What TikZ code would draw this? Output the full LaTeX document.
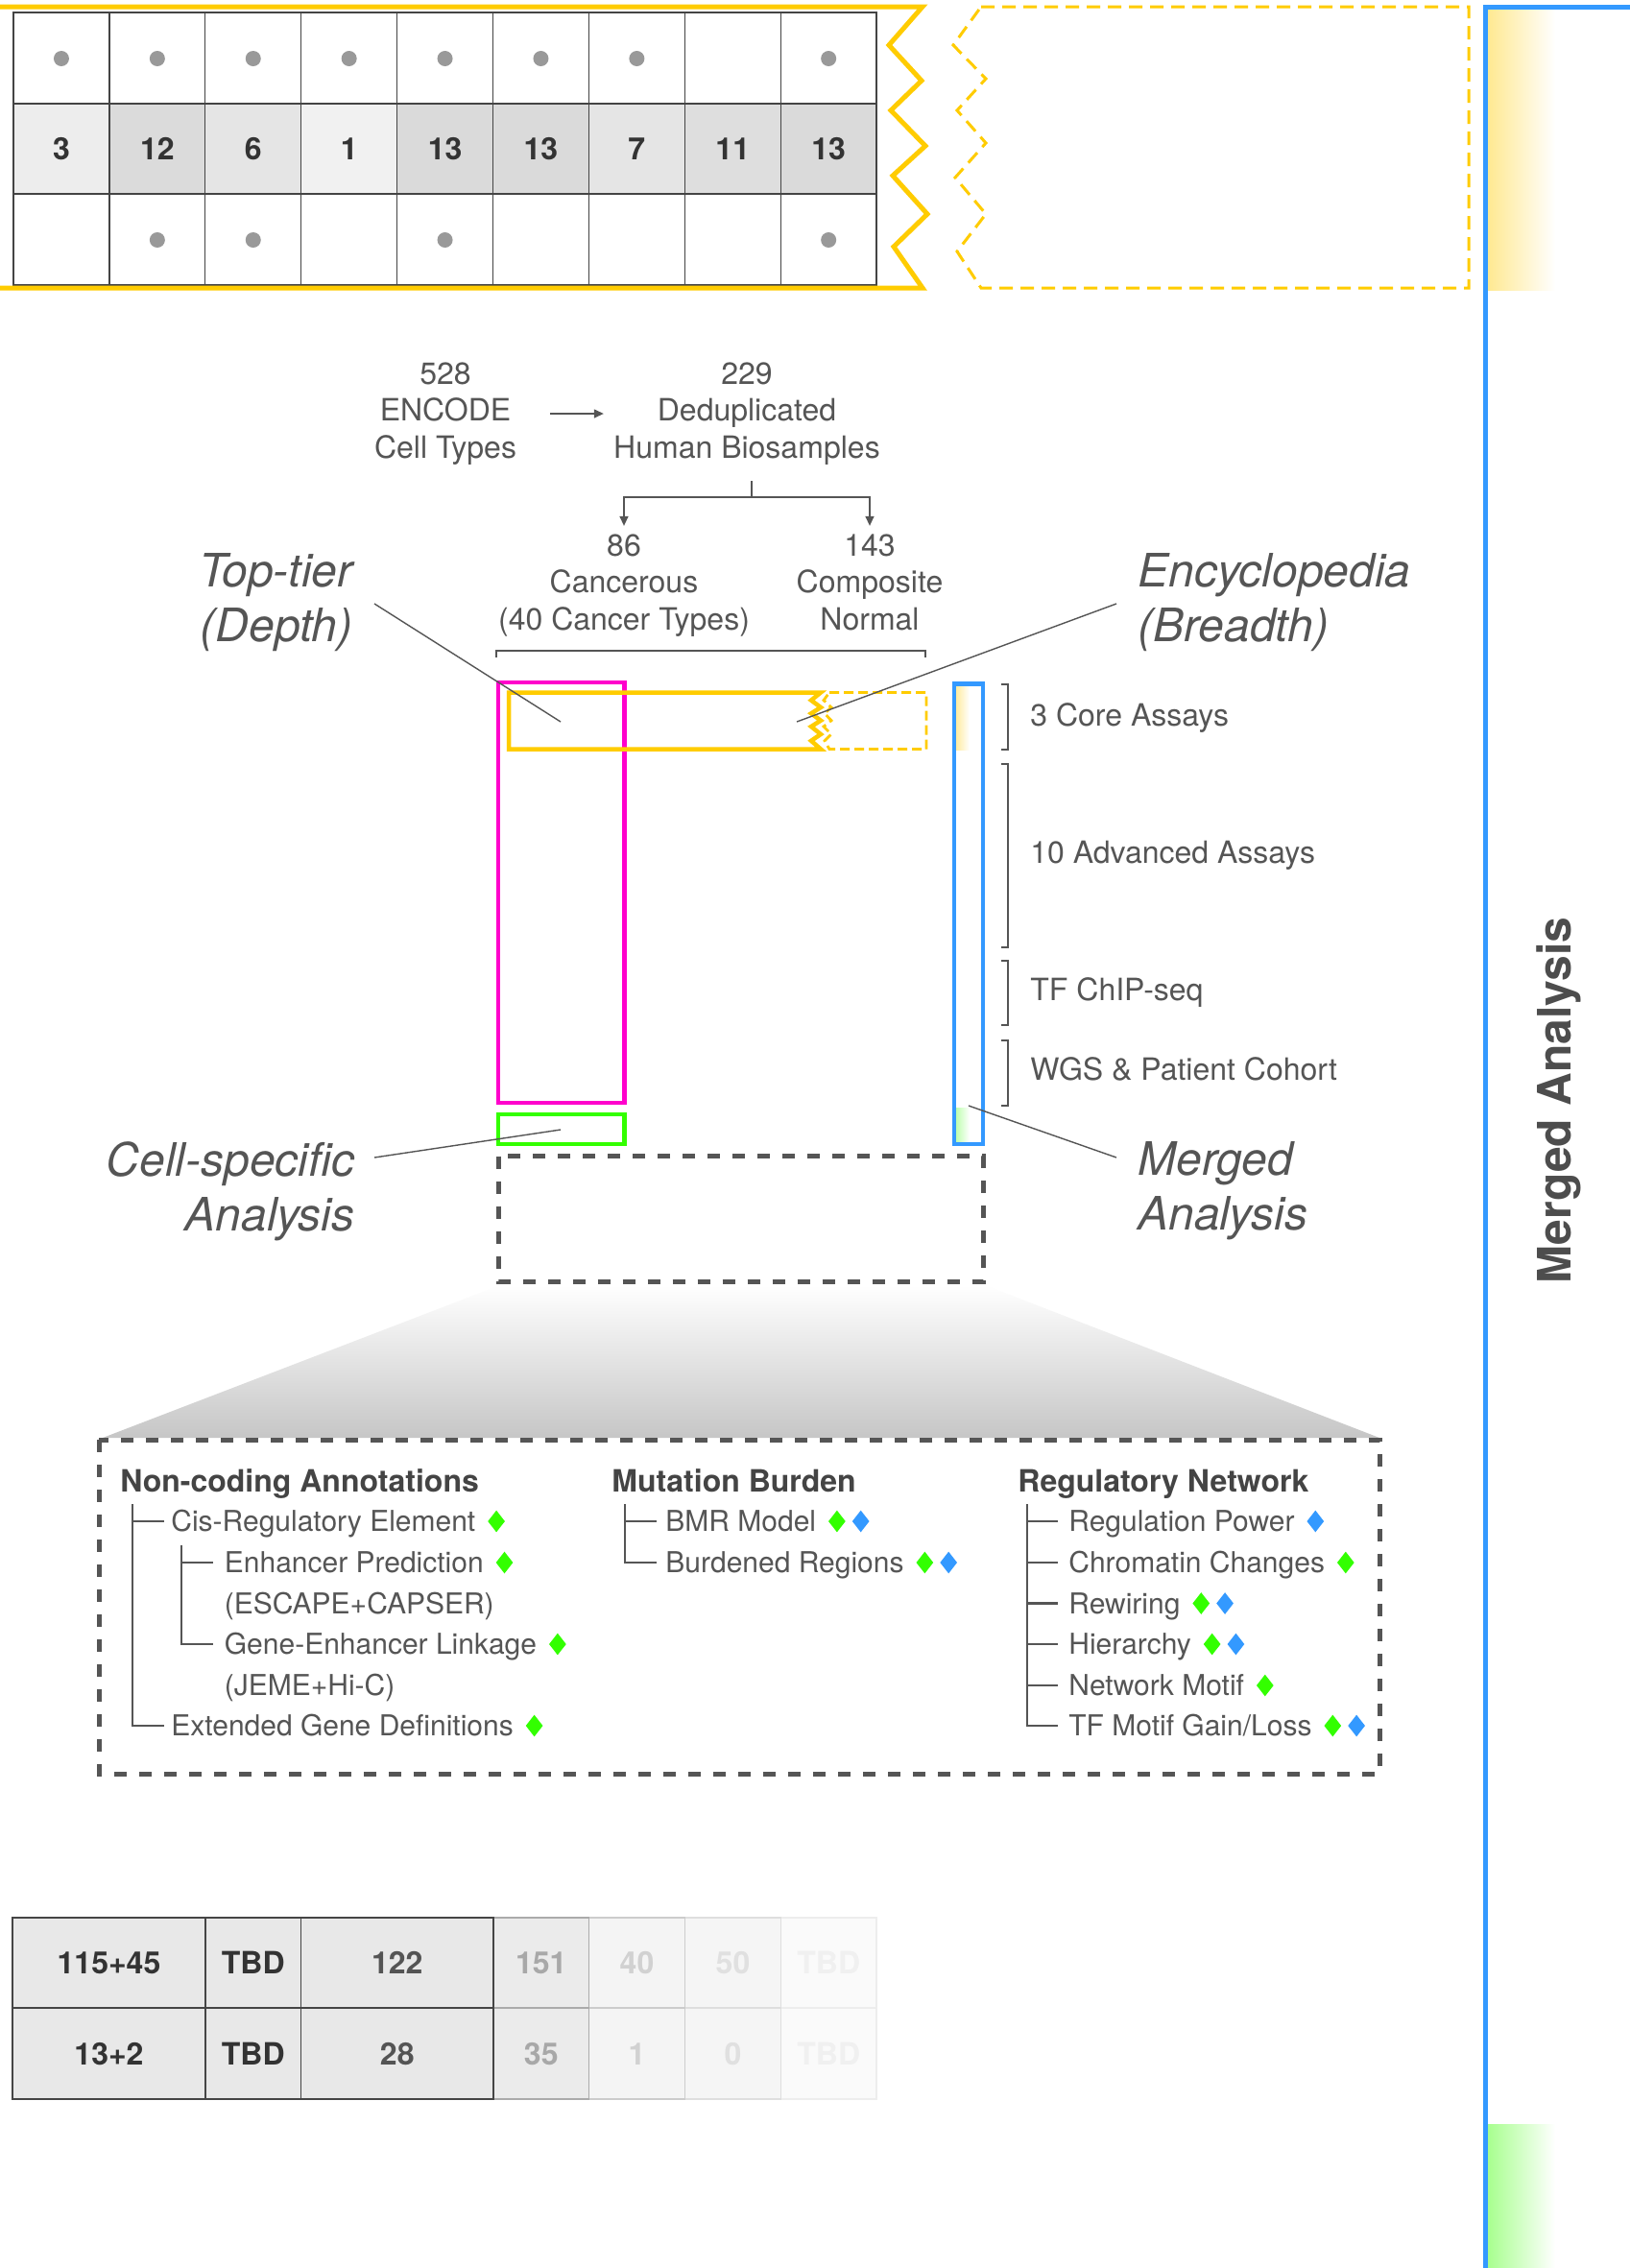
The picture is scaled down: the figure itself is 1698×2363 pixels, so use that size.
\documentclass[tikz,border=0pt]{standalone}
\usepackage{fontspec}
\setmainfont{TeX Gyre Heros}
\usetikzlibrary{arrows.meta,shapes.geometric}
\definecolor{ylw}{HTML}{FFCC00}
\definecolor{mag}{HTML}{FF00CC}
\definecolor{blu}{HTML}{3399FF}
\definecolor{grn}{HTML}{33FF00}
\definecolor{txt}{HTML}{555555}
\definecolor{hdrc}{HTML}{444444}
\definecolor{dark}{HTML}{333333}
\definecolor{dotc}{HTML}{999999}
\definecolor{ygrad}{RGB}{255,233,146}
\definecolor{ggrad}{RGB}{168,255,143}
\definecolor{yin}{RGB}{255,236,160}
\definecolor{gin}{RGB}{190,255,175}
\definecolor{trapc}{RGB}{198,198,198}
\definecolor{mergc}{HTML}{4D4D4D}
\begin{document}
\begin{tikzpicture}[x=0.5pt,y=-0.5pt,
  lbl/.style={font=\fontsize{16pt}{19.25pt}\selectfont, text=txt, align=center, inner sep=0pt},
  ital/.style={font=\fontsize{24pt}{28.5pt}\selectfont\itshape, text=txt, inner sep=0pt},
  asy/.style={font=\fontsize{16pt}{19pt}\selectfont, text=txt, inner sep=0pt, anchor=west, text height=11.5pt, text depth=0pt},
  item/.style={font=\fontsize{15pt}{18pt}\selectfont, text=txt, inner sep=0pt, anchor=west, text height=10.8pt, text depth=0pt},
  hdr/.style={font=\fontsize{16pt}{19pt}\selectfont\bfseries, text=hdrc, inner sep=0pt, anchor=west, text height=11.5pt, text depth=0pt},
  num/.style={font=\fontsize{16pt}{19pt}\selectfont\bfseries, inner sep=0pt, text height=11.5pt, text depth=0pt},
  dotn/.style={circle, fill=dotc, inner sep=0pt, minimum size=8pt},
  gridln/.style={draw=hdrc, line width=0.6pt},
  thinln/.style={draw=txt, line width=0.7pt},
  brk/.style={draw=txt, line width=0.75pt},
  arr/.style={thinln, -{Triangle[length=5pt,width=4.5pt]}},
  treeln/.style={draw=txt, line width=1.2pt},
  dashbox/.style={draw=txt, line width=2.5pt, dash pattern=on 6.5pt off 6.5pt},
  gdia/.style={diamond, fill=grn, inner sep=0pt, minimum width=9pt, minimum height=11.5pt, anchor=west},
  bdia/.style={diamond, fill=blu, inner sep=0pt, minimum width=9pt, minimum height=11.5pt, anchor=west}
]
\useasboundingbox (0,0) rectangle (1698,2363);
\fill[white] (0,0) rectangle (1698,2363);

% ---------- top magnified table ----------
\foreach \i/\n/\g in {0/3/7,1/12/14,2/6/10,3/1/5.5,4/13/14.5,5/13/14.5,6/7/10,7/11/13,8/13/14.5}{
  \fill[black!\g] ({14+99.9*\i},108) rectangle ({113.9+99.9*\i},202);
  \node[num, text=dark] (tn\i) at ({63.95+99.9*\i},155) {\n};
}
\draw[gridln] (14,13) rectangle (913,297);
\draw[gridln] (14,108) -- (913,108) (14,202) -- (913,202);
\foreach \i in {1,...,8} \draw[gridln] ({14+99.9*\i},13) -- ({14+99.9*\i},297);
\foreach \i in {0,1,2,3,4,5,6,8} \node[dotn] (dt\i) at ({63.95+99.9*\i},61) {};
\foreach \i in {1,2,4,8} \node[dotn] (db\i) at ({63.95+99.9*\i},250) {};

\draw[ylw, line width=2.5pt, line join=miter] (0,7) -- (961,7) -- (926,47) -- (960,84) -- (928,115) -- (964,152) -- (930,183) -- (966,223) -- (931,257) -- (961,300) -- (0,300);
\draw[ylw, line width=1.5pt, dash pattern=on 7pt off 4pt] (1022,7) -- (1530,7) -- (1530,300) -- (1022,300) -- (997,262) -- (1027,223) -- (995,185) -- (1027,149) -- (997,115) -- (1027,82) -- (993,47) -- cycle;

% ---------- right side gradients and blue frame ----------
\shade[left color=ygrad, right color=white] (1550,10) rectangle (1620,302);
\shade[left color=ggrad, right color=white] (1550,2213) rectangle (1620,2363);
\draw[blu, line width=2.5pt, line join=miter] (1547.5,2363) -- (1547.5,7.5) -- (1698,7.5);
\node[font=\fontsize{24pt}{24pt}\selectfont\bfseries, text=mergc, rotate=90, inner sep=0pt, text height=17.3pt, text depth=0pt] (mergedv) at (1619,1146.5) {Merged Analysis};

% ---------- biosample labels ----------
\node[lbl] (enc) at (464,431) {\strut 528\\ENCODE\\Cell Types\strut};
\node[lbl] (dedup) at (778,431) {\strut 229\\Deduplicated\\Human Biosamples\strut};
\node[lbl] (canc) at (650,610) {\strut 86\\Cancerous\\(40 Cancer Types)\strut};
\node[lbl] (comp) at (906,610) {\strut 143\\Composite\\Normal\strut};
\draw[arr, shorten <=17.5pt, shorten >=5pt] (enc) -- (dedup);
\coordinate (split) at (783,518);
\draw[thinln, shorten <=6pt] (dedup.south -| split) -- (split);
\draw[arr] (split) -| ([yshift=2pt]canc.north);
\draw[arr] (split) -| ([yshift=2pt]comp.north);
\draw[brk] (517,685) -- (517,678) -- (964,678) -- (964,685);

% ---------- italic labels ----------
\node[ital, align=right, anchor=east] (toptier) at (368,628) {Top-tier\\(Depth)};
\node[ital, align=left, anchor=west] (encyc) at (1185,628) {Encyclopedia\\(Breadth)};
\node[ital, align=right, anchor=east] (cellsp) at (370,1241) {Cell-specific\\Analysis};
\node[ital, align=left, anchor=west] (merged) at (1185,1241) {Merged\\Analysis};

% ---------- boxes ----------
\draw[mag, line width=2.25pt] (519,711) rectangle (650.5,1149);
\draw[ylw, line width=2.25pt, line join=miter] (855,721.5) -- (530,721.5) -- (530,780.5) -- (855,780.5) -- (845,771.8) -- (855,765) -- (845,757) -- (855,750.7) -- (845,743.3) -- (855,737) -- (845,729.6) -- cycle;
\draw[ylw, line width=1.4pt, dash pattern=on 5pt off 2.5pt] (864,721.5) -- (965,721.5) -- (965,780.5) -- (864,780.5) -- (859,771.8) -- (866,765) -- (858,757) -- (866,750.7) -- (859,743.3) -- (866,737) -- (858,729.6) -- cycle;
\draw[grn, line width=2.25pt] (519,1161) rectangle (650.5,1192);
\shade[left color=yin, right color=white] (996,715) rectangle (1010,781);
\shade[left color=gin, right color=white] (996,1154) rectangle (1010,1190);
\draw[blu, line width=2.25pt] (994,712.5) rectangle (1024,1192);

% assay brackets
\draw[brk] (1043,713) -- (1050,713) -- (1050,781) -- (1043,781);
\draw[brk] (1043,796) -- (1050,796) -- (1050,987) -- (1043,987);
\draw[brk] (1043,1001) -- (1050,1001) -- (1050,1068) -- (1043,1068);
\draw[brk] (1043,1084) -- (1050,1084) -- (1050,1152) -- (1043,1152);
\node[asy] (core) at (1073,745) {3 Core Assays};
\node[asy] (adv) at (1073,888) {10 Advanced Assays};
\node[asy] (tfc) at (1073,1031) {TF ChIP-seq};
\node[asy] (wgs) at (1073,1114) {WGS \& Patient Cohort};

% leader lines
\coordinate (ttpt) at (584,752);
\coordinate (ecpt) at (830,752);
\coordinate (cspt) at (584,1177);
\coordinate (mapt) at (1009,1152);
\draw[thinln] ([xshift=11pt,yshift=-0.5pt]toptier.east) -- (ttpt);
\draw[thinln] ([xshift=-11pt,yshift=-0.5pt]encyc.west) -- (ecpt);
\draw[thinln] ([xshift=10pt,yshift=17.5pt]cellsp.east) -- (cspt);
\draw[thinln] ([xshift=-11pt,yshift=17.5pt]merged.west) -- (mapt);

% ---------- magnification ----------
\draw[dashbox] (519,1204.5) rectangle (1024,1335);
\shade[top color=white, bottom color=trapc] (521,1339) -- (1026,1339) -- (1437,1498) -- (107,1498) -- cycle;
\draw[dashbox] (103,1500) rectangle (1437,1848);

% headers
\node[hdr] (h1) at (125,1543) {Non-coding Annotations};
\node[hdr] (h2) at (637,1543) {Mutation Burden};
\node[hdr] (h3) at (1060,1543) {Regulatory Network};

% items
\node[item] (cre) at (178,1585) {Cis-Regulatory Element};
\node[item] (enh) at (233.5,1628) {Enhancer Prediction};
\node[item] (esc) at (233.5,1670.5) {(ESCAPE+CAPSER)};
\node[item] (gel) at (233.5,1713) {Gene-Enhancer Linkage};
\node[item] (jeme) at (233.5,1756) {(JEME+Hi-C)};
\node[item] (egd) at (178,1798) {Extended Gene Definitions};
\node[item] (bmr) at (693,1585) {BMR Model};
\node[item] (bur) at (693,1628) {Burdened Regions};
\node[item] (rp) at (1113,1585) {Regulation Power};
\node[item] (cc) at (1113,1628) {Chromatin Changes};
\node[item] (rew) at (1113,1670.5) {Rewiring};
\node[item] (hie) at (1113,1713) {Hierarchy};
\node[item] (nm) at (1113,1756) {Network Motif};
\node[item] (tf) at (1113,1798) {TF Motif Gain/Loss};

% diamonds
\node[gdia] (creg) at ([xshift=6pt]cre.east) {};
\node[gdia] (enhg) at ([xshift=6pt]enh.east) {};
\node[gdia] (gelg) at ([xshift=6pt]gel.east) {};
\node[gdia] (egdg) at ([xshift=6pt]egd.east) {};
\node[gdia] (bmrg) at ([xshift=6pt]bmr.east) {};
\node[bdia] (bmrb) at ([xshift=3pt]bmrg.east) {};
\node[gdia] (burg) at ([xshift=6pt]bur.east) {};
\node[bdia] (burb) at ([xshift=3pt]burg.east) {};
\node[bdia] (rpb) at ([xshift=6pt]rp.east) {};
\node[gdia] (ccg) at ([xshift=6pt]cc.east) {};
\node[gdia] (rewg) at ([xshift=6pt]rew.east) {};
\node[bdia] (rewb) at ([xshift=3pt]rewg.east) {};
\node[gdia] (hieg) at ([xshift=6pt]hie.east) {};
\node[bdia] (hieb) at ([xshift=3pt]hieg.east) {};
\node[gdia] (nmg) at ([xshift=6pt]nm.east) {};
\node[gdia] (tfg) at ([xshift=6pt]tf.east) {};
\node[bdia] (tfb) at ([xshift=3pt]tfg.east) {};

% trees
\coordinate (t1) at (138,1567);
\draw[treeln] (t1) |- ([xshift=-3.5pt]egd.west);
\draw[treeln] (t1 |- cre.west) -- ([xshift=-3.5pt]cre.west);
\coordinate (t1b) at (189,1610);
\draw[treeln] (t1b) |- ([xshift=-5.75pt]gel.west);
\draw[treeln] (t1b |- enh.west) -- ([xshift=-5.75pt]enh.west);
\coordinate (t2) at (651,1567);
\draw[treeln] (t2) |- ([xshift=-4.5pt]bur.west);
\draw[treeln] (t2 |- bmr.west) -- ([xshift=-4.5pt]bmr.west);
\coordinate (t3) at (1070,1567);
\draw[treeln] (t3) |- ([xshift=-5.5pt]tf.west);
\foreach \nn in {rp,cc,rew,hie,nm} \draw[treeln] (t3 |- \nn.west) -- ([xshift=-5.5pt]\nn.west);

% ---------- bottom table ----------
\foreach \a/\b/\f/\d/\t/\u/\v [count=\k] in {813.5/913/2/7/6/TBD/TBD, 713.5/813.5/4/13/12/50/0, 613.5/713.5/4.5/20/18/40/1, 514/613.5/8/33/34/151/35, 313.5/514/9/73/67/122/28, 214/313.5/9/73/80/TBD/TBD, 13/214/9/73/80/115+45/13+2}{
  \filldraw[fill=black!\f, draw=black!\d, line width=0.6pt] (\a,1998) rectangle (\b,2092);
  \filldraw[fill=black!\f, draw=black!\d, line width=0.6pt] (\a,2092) rectangle (\b,2187);
  \node[num, text=black!\t] (bta\k) at ({(\a+\b)/2},2045) {\u};
  \node[num, text=black!\t] (btb\k) at ({(\a+\b)/2},2139.5) {\v};
}
\end{tikzpicture}
\end{document}
